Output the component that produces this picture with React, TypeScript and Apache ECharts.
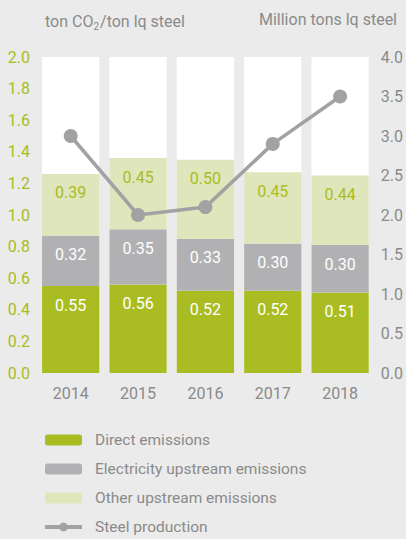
import React, { useEffect, useRef } from "react";
import * as echarts from "echarts";

const years = ["2014", "2015", "2016", "2017", "2018"];
const direct = [0.55, 0.56, 0.52, 0.52, 0.51];
const electricity = [0.32, 0.35, 0.33, 0.3, 0.3];
const other = [0.39, 0.45, 0.5, 0.45, 0.44];
const steel = [3.0, 2.0, 2.1, 2.9, 3.5];
const backdrop = [2.0, 2.0, 2.0, 2.0, 2.0];

const FONT = "'Liberation Sans Narrow', 'Roboto', sans-serif";
const GREEN = "#a9bd22";
const GRAY = "#b1b1b3";
const LIGHT = "#dfe6bc";
const LINE = "#a2a2a4";
const TEXT = "#8a8a8a";

export default function App() {
  const ref = useRef<HTMLDivElement>(null);
  useEffect(() => {
    const chart = echarts.init(ref.current!, undefined, { renderer: "svg" });
    const label = (color: string) => ({
      show: true,
      position: "insideTop",
      distance: 11,
      color,
      fontFamily: FONT,
      fontSize: 16,
      formatter: (p: any) => Number(p.value).toFixed(2),
    });
    chart.setOption({
      animation: false,
      backgroundColor: "#ebebeb",
      textStyle: { fontFamily: FONT },
      grid: { left: 37, right: 28, top: 57, bottom: 166 },
      title: [
        {
          text: "{a|ton CO}{s|2}{a|/ton lq steel}",
          left: 40,
          top: 6,
          textStyle: {
            fontWeight: "normal",
            rich: {
              a: { fontFamily: FONT, fontSize: 16, color: TEXT, fontWeight: "normal" },
              s: { fontFamily: FONT, fontSize: 10, color: TEXT, fontWeight: "normal", padding: [10, 1, 0, 0] },
            },
          },
        },
        {
          text: "Million tons lq steel",
          right: 4,
          top: 6,
          textStyle: { fontFamily: FONT, fontSize: 16, color: TEXT, fontWeight: "normal" },
        },
      ],
      legend: {
        orient: "vertical",
        left: 43,
        top: 431,
        height: 110,
        padding: 0,
        itemWidth: 37,
        itemHeight: 11,
        itemGap: 11,
        data: [
          "Direct emissions",
          "Electricity upstream emissions",
          "Other upstream emissions",
          { name: "Steel production", lineStyle: { width: 4 }, itemStyle: { color: LINE } },
        ],
        textStyle: { fontFamily: FONT, fontSize: 15.5, color: TEXT, lineHeight: 18, padding: [0, 0, 0, 8] },
      },
      xAxis: {
        type: "category",
        data: years,
        axisLine: { show: false },
        axisTick: { show: false },
        axisLabel: { color: TEXT, fontFamily: FONT, fontSize: 16, margin: 12 },
      },
      yAxis: [
        {
          type: "value",
          min: 0,
          max: 2,
          interval: 0.2,
          splitLine: { show: false },
          axisLabel: {
            color: GREEN,
            fontFamily: FONT,
            fontSize: 16,
            margin: 7,
            formatter: (v: number) => v.toFixed(1),
          },
        },
        {
          type: "value",
          min: 0,
          max: 4,
          interval: 0.5,
          splitLine: { show: false },
          axisLabel: {
            color: TEXT,
            fontFamily: FONT,
            fontSize: 16,
            margin: 7,
            formatter: (v: number) => v.toFixed(1),
          },
        },
      ],
      series: [
        {
          name: "bg",
          type: "bar",
          data: backdrop,
          barCategoryGap: "15%",
          itemStyle: { color: "#ffffff" },
          silent: true,
          z: 1,
        },
        {
          name: "Direct emissions",
          type: "bar",
          stack: "e",
          data: direct,
          barGap: "-100%",
          itemStyle: { color: GREEN },
          label: label("#ffffff"),
          z: 2,
        },
        {
          name: "Electricity upstream emissions",
          type: "bar",
          stack: "e",
          data: electricity,
          itemStyle: { color: GRAY },
          label: label("#ffffff"),
          z: 2,
        },
        {
          name: "Other upstream emissions",
          type: "bar",
          stack: "e",
          data: other,
          itemStyle: { color: LIGHT },
          label: label(GREEN),
          z: 2,
        },
        {
          name: "Steel production",
          type: "line",
          yAxisIndex: 1,
          data: steel,
          symbol: "circle",
          symbolSize: 14,
          lineStyle: { color: LINE, width: 3.5 },
          itemStyle: { color: LINE },
          z: 5,
        },
      ],
    });
    return () => chart.dispose();
  }, []);
  return <div ref={ref} style={{ width: 406, height: 539, position: "absolute", left: 0, top: 0 }} />;
}
